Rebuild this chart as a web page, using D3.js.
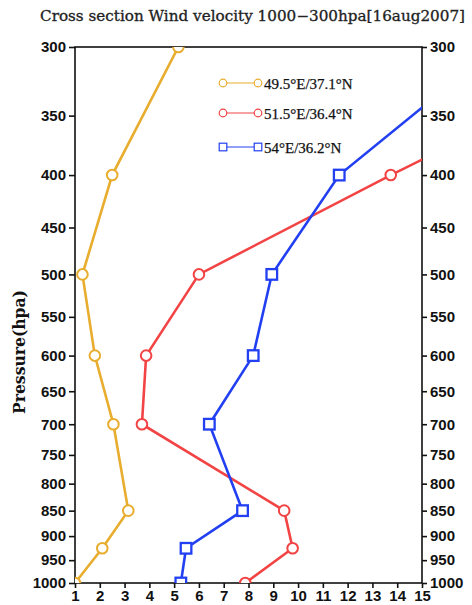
<!DOCTYPE html>
<html><head><meta charset="utf-8">
<script src="https://cdn.jsdelivr.net/npm/d3@7/dist/d3.min.js"></script>
<style>
body{margin:0;background:#fff;}
svg{display:block;}
</style></head>
<body><svg id="chart" width="472" height="605"></svg>
<script>
const titleText = "Cross section Wind velocity 1000\u2212300hpa[16aug2007]";
const yTitle = "Pressure(hpa)";
const levels = [300, 400, 500, 600, 700, 850, 925, 1000];
const seriesNames = ["49.5\u00b0E/37.1\u00b0N", "51.5\u00b0E/36.4\u00b0N", "54\u00b0E/36.2\u00b0N"];
const yellowVals = [5.17, 2.5, 1.3, 1.8, 2.55, 3.15, 2.1, 1.0];
const redVals = [24.2, 13.74, 6.0, 3.87, 3.7, 9.44, 9.78, 7.87];
const blueVals = [18.0, 11.66, 8.94, 8.19, 6.42, 7.76, 5.48, 5.27];
const yTicks = [300,350,400,450,500,550,600,650,700,750,800,850,900,950,1000];
const xTicks = [1,2,3,4,5,6,7,8,9,10,11,12,13,14,15];

const colors = ["#e8ad2e", "#f24444", "#2240f2"];
const shapes = ["circle", "circle", "square"];

const svg = d3.select("#chart");
const L = 75, R = 422, T = 47, B = 583;
const x = d3.scaleLinear().domain([1, 15]).range([L, R]);
const y = d3.scaleLog().domain([300, 1000]).range([T, B]);

svg.append("defs").append("clipPath").attr("id", "clip")
  .append("rect").attr("x", L).attr("y", T).attr("width", R - L).attr("height", B - T);

// title
svg.append("text").attr("x", 40).attr("y", 21)
  .attr("font-family", "DejaVu Serif").attr("font-size", 14.5)
  .attr("textLength", 425).attr("lengthAdjust", "spacingAndGlyphs")
  .attr("fill", "#222").attr("stroke", "#222").attr("stroke-width", 0.3)
  .text(titleText);

// y title
svg.append("text").attr("transform", "translate(25,352) rotate(-90)")
  .attr("text-anchor", "middle").attr("font-family", "DejaVu Serif")
  .attr("font-weight", "bold").attr("font-size", 16)
  .attr("textLength", 124).attr("lengthAdjust", "spacingAndGlyphs").attr("fill", "#111")
  .text(yTitle);

const tickFont = g => g.selectAll("text").attr("font-family", "Liberation Sans")
  .attr("font-weight", "bold").attr("font-size", 15).attr("fill", "#111");

const axL = svg.append("g").attr("transform", `translate(${L},0)`)
  .call(d3.axisLeft(y).tickValues(yTicks).tickFormat(d3.format("d")).tickSize(6).tickPadding(3));
const axR = svg.append("g").attr("transform", `translate(${R},0)`)
  .call(d3.axisRight(y).tickValues(yTicks).tickFormat(d3.format("d")).tickSize(5).tickPadding(3));
const axB = svg.append("g").attr("transform", `translate(0,${B})`)
  .call(d3.axisBottom(x).tickValues(xTicks).tickFormat(d3.format("d")).tickSize(5).tickPadding(2));
[axL, axR, axB].forEach(g => {
  g.select(".domain").remove();
  g.selectAll("line").attr("stroke", "#111").attr("stroke-width", 1.6);
  tickFont(g);
});
axB.selectAll("text").attr("dy", "0.75em");

// frame
svg.append("rect").attr("x", L).attr("y", T).attr("width", R - L).attr("height", B - T)
  .attr("fill", "none").attr("stroke", "#111").attr("stroke-width", 1.6);

const plot = svg.append("g").attr("clip-path", "url(#clip)");
const allVals = [yellowVals, redVals, blueVals];
const line = d3.line().x(d => x(d.v)).y(d => y(d.p));

allVals.forEach((vals, i) => {
  const pts = levels.map((p, j) => ({p, v: vals[j]}));
  plot.append("path").datum(pts).attr("d", line).attr("fill", "none")
    .attr("stroke", colors[i]).attr("stroke-width", 2.6);
  if (shapes[i] === "circle") {
    plot.selectAll(null).data(pts).enter().append("circle")
      .attr("cx", d => x(d.v)).attr("cy", d => y(d.p)).attr("r", 5.3)
      .attr("fill", "#fff").attr("stroke", colors[i]).attr("stroke-width", 2);
  } else {
    plot.selectAll(null).data(pts).enter().append("rect")
      .attr("x", d => x(d.v) - 5.3).attr("y", d => y(d.p) - 5.3)
      .attr("width", 10.6).attr("height", 10.6)
      .attr("fill", "#fff").attr("stroke", colors[i]).attr("stroke-width", 2.3);
  }
});

// legend
const legY = [83, 113, 147];
seriesNames.forEach((name, i) => {
  const g = svg.append("g");
  g.append("line").attr("x1", 223).attr("x2", 258).attr("y1", legY[i]).attr("y2", legY[i])
    .attr("stroke", colors[i]).attr("stroke-width", 1.1);
  [223, 258].forEach(cx => {
    if (shapes[i] === "circle") {
      g.append("circle").attr("cx", cx).attr("cy", legY[i]).attr("r", 3.8)
        .attr("fill", "#fff").attr("stroke", colors[i]).attr("stroke-width", 1.2);
    } else {
      g.append("rect").attr("x", cx - 3.8).attr("y", legY[i] - 3.8).attr("width", 7.6).attr("height", 7.6)
        .attr("fill", "#fff").attr("stroke", colors[i]).attr("stroke-width", 1.2);
    }
  });
  g.append("text").attr("x", 264).attr("y", legY[i] + 5.5)
    .attr("font-family", "Liberation Serif").attr("font-size", 15).attr("fill", "#111")
    .attr("stroke", "#111").attr("stroke-width", 0.25)
    .text(name);
});
</script></body></html>
